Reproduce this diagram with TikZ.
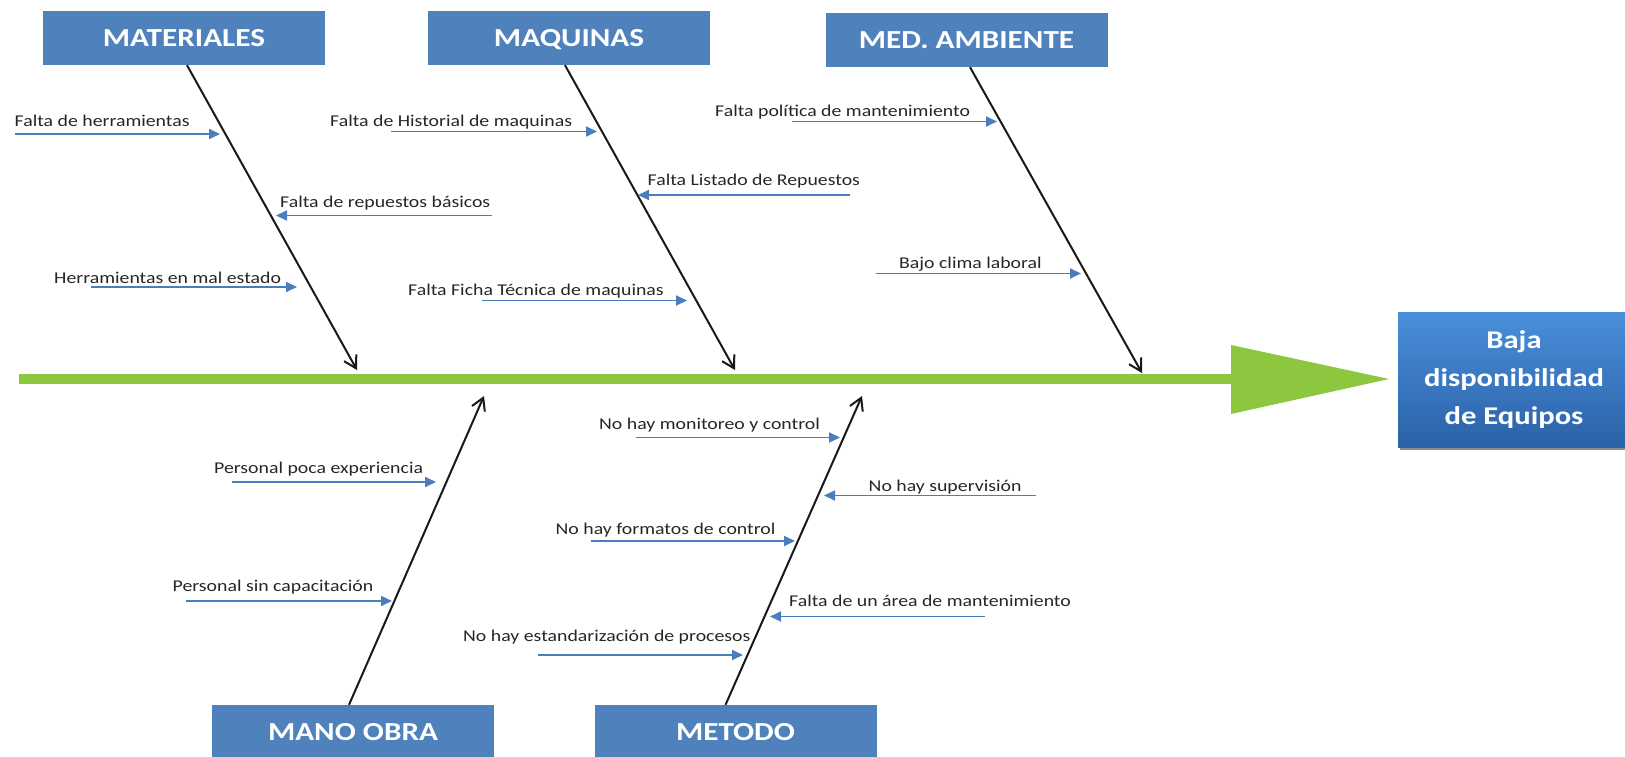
\documentclass[tikz,border=0pt]{standalone}
\usepackage{fontspec}
\setmainfont{Carlito}
\newfontfamily\lblfont[FakeStretch=1.2]{Carlito}
\newfontfamily\catfont[FakeStretch=1.2]{Carlito}
\usetikzlibrary{arrows.meta,shadows}

\definecolor{catblue}{HTML}{4F81BD}
\definecolor{causeblue}{HTML}{4A7EBB}
\definecolor{spinegreen}{HTML}{8DC63F}
\definecolor{restop}{HTML}{4A8FDA}
\definecolor{resbot}{HTML}{2A62A8}
\definecolor{lbltext}{HTML}{262626}

% caps-only box so every heading sits on the same line
\newcommand\capline[1]{\raisebox{0pt}[17pt][0pt]{#1}}

\tikzset{
  catbox/.style={fill=catblue, draw=none, minimum width=282pt, minimum height=54pt,
    inner sep=0pt, text=white,
    font=\catfont\bfseries\fontsize{26}{30}\selectfont},
  resultbox/.style={shade, top color=restop, bottom color=resbot, draw=none,
    minimum width=232pt, minimum height=135pt, inner sep=0pt, align=center,
    text=white, font=\catfont\bfseries\fontsize{25.5}{38}\selectfont,
    drop shadow={shadow xshift=2pt, shadow yshift=-3pt, opacity=.45, fill=black}},
  lbl/.style={anchor=base west, inner sep=0pt, text=lbltext,
    font=\lblfont\fontsize{16.5}{20}\selectfont},
  bone/.style={draw=black!90, line width=2pt,
    -{Straight Barb[length=12pt,width=14pt,line width=2pt]}},
  cause/.style={draw=causeblue, line width=1.8pt,
    -{Triangle[length=11pt,width=10pt]}},
  spine/.style={draw=spinegreen, line width=10pt}
}

\begin{document}
\begin{tikzpicture}[x=1pt,y=-1pt]
\useasboundingbox (0,0) rectangle (1625,757);

% main spine and head
\coordinate (sp0) at (19,379);
\coordinate (head) at (1232,379);
\draw[spine] (sp0) -- (head);
\fill[spinegreen] (1231,345) -- (1389,379) -- (1231,414) -- cycle;

% effect
\node[resultbox] (res) at (1514,379.5) {Baja\\disponibilidad\\de Equipos};

% category boxes
\node[catbox] (mat)  at (184,38)    {\capline{MATERIALES}};
\node[catbox] (maq)  at (569,38)    {\capline{MAQUINAS}};
\node[catbox] (med)  at (966.5,40)  {\capline{MED. AMBIENTE}};
\node[catbox] (mano) at (353,732)   {\capline{MANO OBRA}};
\node[catbox] (met)  at (735.5,732) {\capline{METODO}};

% bone ends on the spine
\coordinate (matT)  at (357,370);
\coordinate (maqT)  at (735,370);
\coordinate (medT)  at (1142,373);
\coordinate (manoT) at (484,396);
\coordinate (metT)  at (862,396);

\draw[bone] ([xshift=3pt]mat.south)    -- (matT);
\draw[bone] ([xshift=-4pt]maq.south)   -- (maqT);
\draw[bone] ([xshift=3.5pt]med.south)  -- (medT);
\draw[bone] ([xshift=-4pt]mano.north)  -- (manoT);
\draw[bone] ([xshift=-10pt]met.north)  -- (metT);

% causes: MATERIALES
\node[lbl] (c1) at (14.5,127) {Falta de herramientas};
\coordinate (c1a) at (15,134);  \coordinate (c1b) at (220,134);
\draw[cause] (c1a) -- (c1b);
\node[lbl] (c2) at (280,207) {Falta de repuestos básicos};
\coordinate (c2a) at (492,215.5);  \coordinate (c2b) at (276,215.5);
\draw[cause] (c2a) -- (c2b);
\node[lbl] (c3) at (54,283) {Herramientas en mal estado};
\coordinate (c3a) at (91,287);  \coordinate (c3b) at (297,287);
\draw[cause] (c3a) -- (c3b);

% causes: MAQUINAS
\node[lbl] (c4) at (330,126.5) {Falta de Historial de maquinas};
\coordinate (c4a) at (391,131.5);  \coordinate (c4b) at (597,131.5);
\draw[cause] (c4a) -- (c4b);
\node[lbl] (c5) at (647.5,185.5) {Falta Listado de Repuestos};
\coordinate (c5a) at (850,195);  \coordinate (c5b) at (638,195);
\draw[cause] (c5a) -- (c5b);
\node[lbl] (c6) at (408,295) {Falta Ficha Técnica de maquinas};
\coordinate (c6a) at (482,300.5);  \coordinate (c6b) at (687,300.5);
\draw[cause] (c6a) -- (c6b);

% causes: MED. AMBIENTE
\node[lbl] (c7) at (715,117) {Falta política de mantenimiento};
\coordinate (c7a) at (792,121.5);  \coordinate (c7b) at (997,121.5);
\draw[cause] (c7a) -- (c7b);
\node[lbl] (c8) at (899,268) {Bajo clima laboral};
\coordinate (c8a) at (876,273.5);  \coordinate (c8b) at (1081,273.5);
\draw[cause] (c8a) -- (c8b);

% causes: MANO OBRA
\node[lbl] (c9) at (214,473.5) {Personal poca experiencia};
\coordinate (c9a) at (232,482);  \coordinate (c9b) at (436,482);
\draw[cause] (c9a) -- (c9b);
\node[lbl] (c10) at (172.5,591.5) {Personal sin capacitación};
\coordinate (c10a) at (186,601);  \coordinate (c10b) at (392,601);
\draw[cause] (c10a) -- (c10b);

% causes: METODO
\node[lbl] (c11) at (599,429) {No hay monitoreo y control};
\coordinate (c11a) at (635.5,437.5);  \coordinate (c11b) at (840,437.5);
\draw[cause] (c11a) -- (c11b);
\node[lbl] (c12) at (868.5,491) {No hay supervisión};
\coordinate (c12a) at (1036,495.5);  \coordinate (c12b) at (824,495.5);
\draw[cause] (c12a) -- (c12b);
\node[lbl] (c13) at (555.5,534.5) {No hay formatos de control};
\coordinate (c13a) at (591,541);  \coordinate (c13b) at (795,541);
\draw[cause] (c13a) -- (c13b);
\node[lbl] (c14) at (789,606) {Falta de un área de mantenimiento};
\coordinate (c14a) at (985,616.5);  \coordinate (c14b) at (770,616.5);
\draw[cause] (c14a) -- (c14b);
\node[lbl] (c15) at (463,641.5) {No hay estandarización de procesos};
\coordinate (c15a) at (538,655);  \coordinate (c15b) at (743,655);
\draw[cause] (c15a) -- (c15b);
\end{tikzpicture}
\end{document}
